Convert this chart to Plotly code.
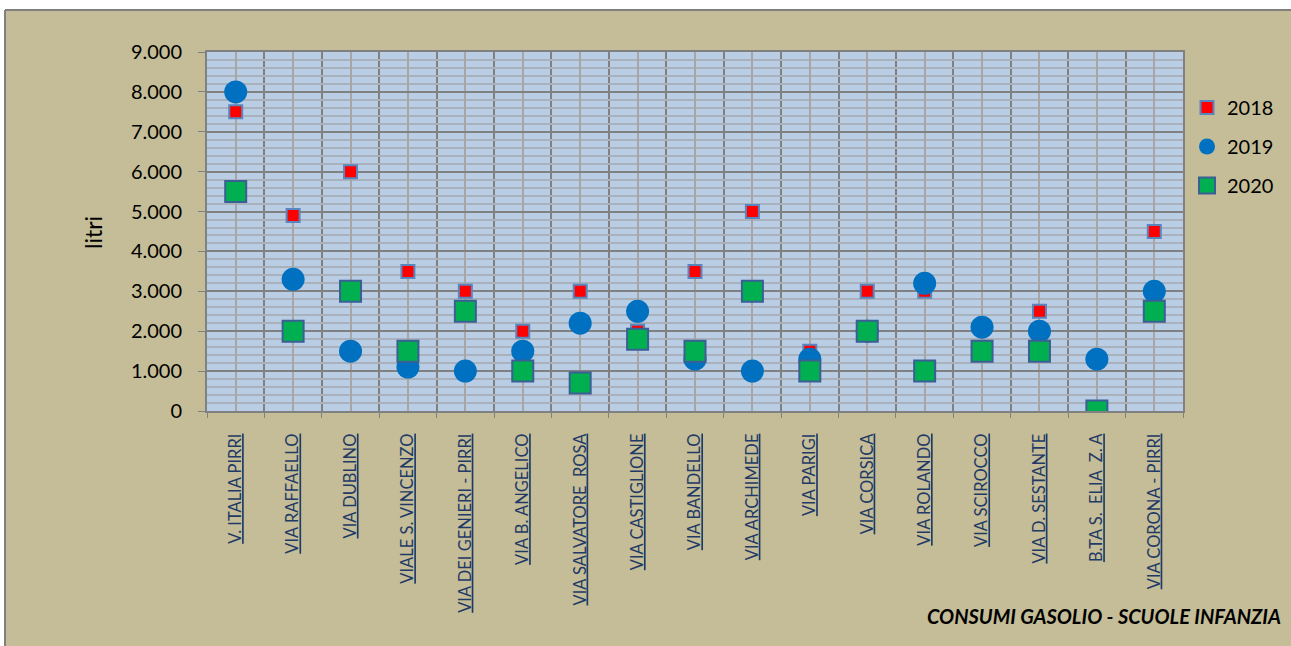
import plotly.graph_objects as go

categories = ["V. ITALIA PIRRI", "VIA RAFFAELLO", "VIA DUBLINO", "VIALE S. VINCENZO",
              "VIA DEI GENIERI - PIRRI", "VIA B. ANGELICO", "VIA SALVATORE  ROSA",
              "VIA CASTIGLIONE", "VIA BANDELLO", "VIA ARCHIMEDE", "VIA PARIGI",
              "VIA CORSICA", "VIA ROLANDO", "VIA SCIROCCO", "VIA D. SESTANTE",
              "B.TA S.  ELIA  Z. A", "VIA CORONA - PIRRI"]
v2018 = [7500, 4900, 6000, 3500, 3000, 2000, 3000, 2000, 3500, 5000, 1500, 3000, 3000, 2100, 2500, 1300, 4500]
v2019 = [8000, 3300, 1500, 1100, 1000, 1500, 2200, 2500, 1300, 1000, 1300, 2000, 3200, 2100, 2000, 1300, 3000]
v2020 = [5500, 2000, 3000, 1500, 2500, 1000, 700, 1800, 1500, 3000, 1000, 2000, 1000, 1500, 1500, 0, 2500]
ytickvals = [0, 1000, 2000, 3000, 4000, 5000, 6000, 7000, 8000, 9000]

xs = list(range(len(categories)))
FONT = "Lato"

fig = go.Figure()
fig.add_trace(go.Scatter(x=xs, y=v2018, mode="markers", name="2018", legendgroup="a",
                         marker=dict(symbol="square", size=13, color="#ff0000",
                                     line=dict(color="#5a86c0", width=2))))
fig.add_trace(go.Scatter(x=xs, y=v2019, mode="markers", name="2019", legendgroup="b",
                         marker=dict(symbol="circle", size=23, color="#0070c0",
                                     line=dict(color="#0070c0", width=0))))
fig.add_trace(go.Scatter(x=xs, y=v2020, mode="markers", name="2020", legendgroup="c",
                         marker=dict(symbol="square", size=21, color="#00b050",
                                     line=dict(color="#3a5f95", width=2))))

W, H = 1291, 646
L, R, T, B = 207, 1183, 52, 411
pw, ph = R - L, B - T

def px(x):
    return (x - L) / pw

def py(y):
    return (B - y) / ph

fig.update_layout(
    width=W, height=H,
    margin=dict(l=L, r=W - R, t=T, b=H - B, autoexpand=False),
    paper_bgcolor="#c4bd97",
    plot_bgcolor="#b9cde5",
    separators=",.",
    font=dict(family=FONT, color="#000000"),
    showlegend=True,
    legend=dict(x=px(1187), y=py(88), xanchor="left", yanchor="top",
                bgcolor="rgba(0,0,0,0)", font=dict(size=20, family=FONT),
                traceorder="grouped", tracegroupgap=10, itemwidth=30),
    xaxis=dict(range=[-0.5, len(categories) - 0.5], tickmode="array", tickvals=xs,
               ticktext=["<u>" + c + "</u>" for c in categories],
               tickangle=-90, ticks="", tickfont=dict(size=16.5, color="#1f3a66", family=FONT),
               showgrid=True, gridcolor="#a6a6a6", gridwidth=2,
               showline=True, linecolor="#808080", linewidth=2, mirror=True,
               ticklabelstandoff=14, zeroline=False,
               minor=dict(tickmode="array", tickvals=[i - 0.5 for i in range(len(categories) + 1)],
                          showgrid=True, gridcolor="#808080", gridwidth=2,
                          ticks="outside", ticklen=5, tickcolor="#808080", tickwidth=1)),
    yaxis=dict(range=[0, 9000], tickmode="array", tickvals=ytickvals, tickformat=",.0f",
               tickfont=dict(size=20, family=FONT), ticks="outside", ticklen=7,
               tickcolor="#808080", tickwidth=1, ticklabelstandoff=12,
               showgrid=True, gridcolor="#808080", gridwidth=2,
               showline=True, linecolor="#808080", linewidth=2, mirror=True, zeroline=False,
               minor=dict(dtick=200, showgrid=True, gridcolor="#a9b1bd", gridwidth=2)),
    shapes=[
        dict(type="rect", xref="paper", yref="paper", x0=px(-20), x1=px(1320),
             y0=py(10), y1=py(-20), fillcolor="#ffffff", line=dict(width=0)),
        dict(type="rect", xref="paper", yref="paper", x0=px(-20), x1=px(5),
             y0=py(-20), y1=py(680), fillcolor="#ffffff", line=dict(width=0)),
        dict(type="line", xref="paper", yref="paper", x0=px(5), x1=px(1320),
             y0=py(10), y1=py(10), line=dict(color="#808080", width=2)),
        dict(type="line", xref="paper", yref="paper", x0=px(5), x1=px(5),
             y0=py(10), y1=py(680), line=dict(color="#808080", width=2)),
    ],
    annotations=[
        dict(text="litri", xref="paper", yref="paper", x=px(93), y=py(233),
             xanchor="center", yanchor="middle",
             textangle=-90, showarrow=False, font=dict(size=23, family=FONT)),
        dict(text="<b><i>CONSUMI GASOLIO - SCUOLE INFANZIA</i></b>", xref="paper", yref="paper",
             x=px(1283), y=py(616), xanchor="right", yanchor="middle", showarrow=False,
             font=dict(size=20, family=FONT)),
    ],
)

fig.write_html("out.html")
